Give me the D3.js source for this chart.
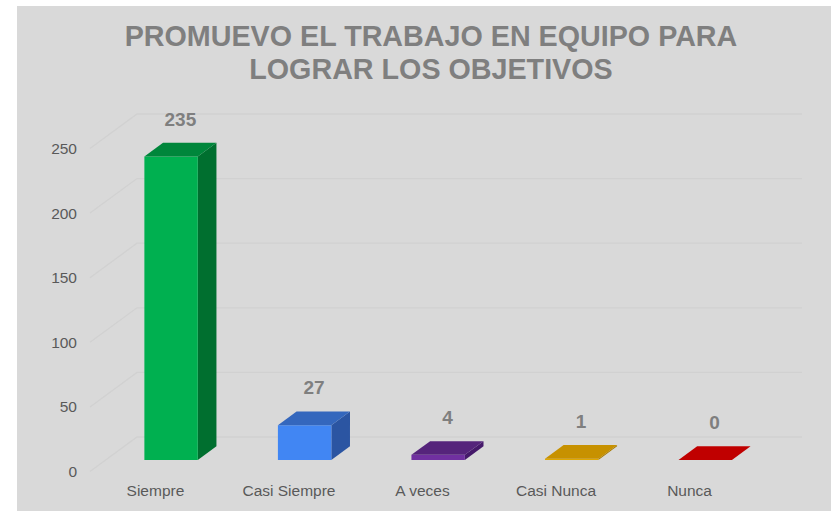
<!DOCTYPE html>
<html>
<head>
<meta charset="utf-8">
<script src="https://cdn.jsdelivr.net/npm/d3@7"></script>
<style>
  body { margin: 0; background: #ffffff; }
  text { font-family: "Liberation Sans", Arial, sans-serif; }
</style>
</head>
<body>
<div id="wrapper"></div>
<script>
const titleLines = ["PROMUEVO EL TRABAJO EN EQUIPO PARA", "LOGRAR LOS OBJETIVOS"];
const categories = ["Siempre", "Casi Siempre", "A veces", "Casi Nunca", "Nunca"];
const values = [235, 27, 4, 1, 0];
const yTicks = [0, 50, 100, 150, 200, 250];
const frontColors = ["#00b050", "#4186f3", "#7030a0", "#e0a800", "#d00000"];
const topColors = ["#00863b", "#3467bd", "#55247b", "#c79100", "#c00000"];
const sideColors = ["#006f2f", "#2b55a2", "#45196a", "#a87a00", "#a00000"];

function drawChart() {
  const width = 831;
  const height = 511;

  const svg = d3.select("#wrapper")
    .append("svg")
    .attr("width", width)
    .attr("height", height);

  // chart area background
  svg.append("rect")
    .attr("x", 17).attr("y", 6)
    .attr("width", width - 17).attr("height", height - 6)
    .attr("fill", "#d9d9d9");

  // title
  svg.append("text")
    .attr("text-anchor", "middle")
    .attr("font-size", 28.7)
    .attr("font-weight", "bold")
    .attr("fill", "#7f7f7f")
    .selectAll("tspan")
    .data(titleLines)
    .join("tspan")
    .attr("x", 431)
    .attr("y", (d, i) => 46 + i * 33)
    .text(d => d);

  // 3D projection: depth 0 = front of floor, 1 = back wall
  const depthX = 47;
  const depthY = 34.5;

  const x = d3.scaleBand()
    .domain(categories)
    .range([90, 755])
    .paddingInner(0.6)
    .paddingOuter(0.29);

  const y = d3.scaleLinear()
    .domain([0, 250])
    .range([471.5, 148.5]);

  const proj = (px, v, z) => [px + z * depthX, y(v) - z * depthY];

  // gridlines: diagonal on left wall + back wall line
  const grid = svg.append("g");
  yTicks.forEach(t => {
    const a = proj(x.range()[0], t, 0);
    const b = proj(x.range()[0], t, 1);
    const c = proj(x.range()[1], t, 1);
    grid.append("polyline")
      .attr("points", [a, b, c].map(p => p.join(",")).join(" "))
      .attr("fill", "none")
      .attr("stroke", "#d1d1d1")
      .attr("stroke-width", 1.3);
  });

  // y axis labels
  svg.append("g")
    .selectAll("text")
    .data(yTicks)
    .join("text")
    .attr("x", 77)
    .attr("y", d => y(d) + 5.5)
    .attr("text-anchor", "end")
    .attr("font-size", 15.5)
    .attr("fill", "#595959")
    .text(d => d);

  // bars
  const z0 = 0.333;
  const z1 = 0.73;
  const bars = svg.append("g");
  categories.forEach((cat, i) => {
    const v = values[i];
    const xl = x(cat);
    const xr = xl + x.bandwidth();
    const fbl = proj(xl, 0, z0), fbr = proj(xr, 0, z0);
    const ftl = proj(xl, v, z0), ftr = proj(xr, v, z0);
    const btl = proj(xl, v, z1), btr = proj(xr, v, z1);
    const bbr = proj(xr, 0, z1);
    const poly = pts => pts.map(p => p.join(",")).join(" ");

    // side face
    bars.append("polygon")
      .attr("points", poly([fbr, ftr, btr, bbr]))
      .attr("fill", sideColors[i]);
    // front face
    bars.append("polygon")
      .attr("points", poly([fbl, ftl, ftr, fbr]))
      .attr("fill", frontColors[i]);
    // top face
    bars.append("polygon")
      .attr("points", poly([ftl, btl, btr, ftr]))
      .attr("fill", topColors[i]);

    // value label
    const lx = (xl + xr) / 2 + (z0 + z1) / 2 * depthX;
    bars.append("text")
      .attr("x", lx)
      .attr("y", btl[1] - 17)
      .attr("text-anchor", "middle")
      .attr("font-size", 19)
      .attr("font-weight", "bold")
      .attr("fill", "#7f7f7f")
      .text(v);
  });

  // category labels
  svg.append("g")
    .selectAll("text")
    .data(categories)
    .join("text")
    .attr("x", d => x(d) + x.bandwidth() / 2)
    .attr("y", 496)
    .attr("text-anchor", "middle")
    .attr("font-size", 15.5)
    .attr("fill", "#595959")
    .text(d => d);
}

drawChart();
</script>
</body>
</html>
